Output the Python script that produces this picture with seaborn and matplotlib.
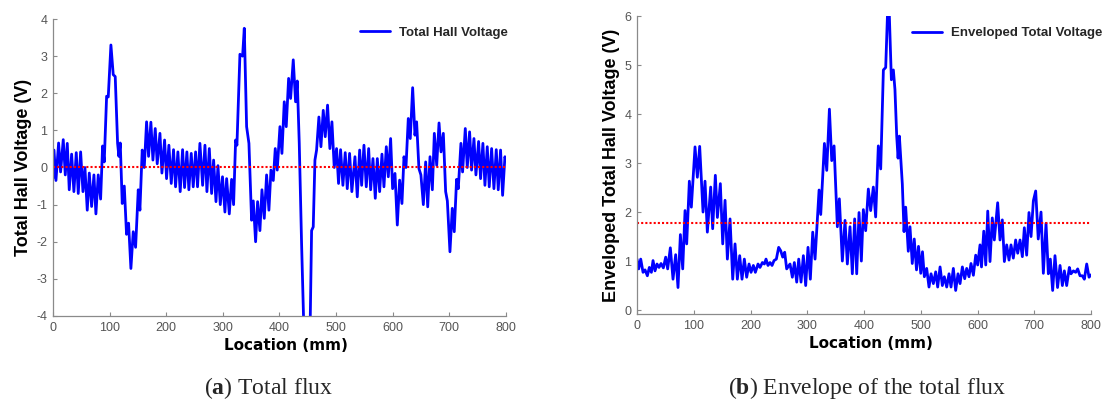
import matplotlib
matplotlib.use("Agg")
import matplotlib.pyplot as plt
import seaborn as sns

# (a) total Hall voltage along the scan line
loc_a = [0, 1.8, 5.3, 10, 13.5, 18.2, 21.8, 25.3, 28.8, 33,
         37, 41.2, 44.7, 48.9, 53, 56.5, 60.6, 64.2, 68.3, 72.4,
         75.9, 80, 84.2, 87.7, 90.6, 94.8, 97.7, 102.4, 106.5, 110,
         114.2, 116.5, 118.9, 122.4, 126, 130, 133.6, 137.7, 141.8, 146,
         150.7, 153.6, 157.7, 161.3, 165.4, 168.9, 173, 176.6, 180.7, 184.2,
         189, 192.5, 197.2, 200.7, 204.8, 209, 213, 216.6, 220.7, 224.8,
         229, 232.5, 236.6, 240.1, 244.3, 247.8, 252, 255.4, 259.6, 264.4,
         268.5, 272, 276.2, 280.3, 283.8, 288, 291.5, 295.6, 299.5, 303.8,
         306.8, 311.5, 315.6, 319.1, 322.7, 325, 330.3, 335, 338, 342.1,
         346.2, 350.9, 353.9, 358, 361.5, 365.6, 369.2, 373.3, 377.4, 381.5,
         385.1, 389.2, 392.7, 396.2, 401, 404.5, 408.6, 412.1, 416.3, 419.8,
         424.5, 428.6, 431.6, 435.1, 439.2, 444, 450, 454, 456.9, 459.8,
         462.8, 465.7, 469.8, 473.4, 477.5, 481, 485.1, 489.2, 492.8, 496.9,
         501, 504.5, 508.1, 512.2, 516.3, 519.9, 524, 528, 533.5, 537.6,
         541.8, 545.3, 549.4, 553.5, 557.7, 561.2, 565.3, 569.4, 573, 577.1,
         581.2, 584.7, 588.9, 592.4, 596.5, 600, 604.2, 608.3, 612.4, 616.5,
         620.1, 623.6, 627.7, 631.2, 635.4, 639.5, 642.4, 646.5, 650, 654.3,
         658.4, 662, 666.1, 670.2, 673.7, 677.9, 682, 685.5, 689.6, 693.7,
         696.7, 701.3, 705.4, 708.9, 713, 716, 720.7, 723.6, 728.4, 731.9,
         736, 739.5, 743.7, 747.2, 751.9, 755.4, 759.5, 763.1, 767.2, 770.7,
         774.9, 779, 783.1, 786.6, 790.7, 794.3, 798.4, 800]
volt_a = [-0.3, 0.47, -0.35, 0.66, -0.12, 0.75, -0.2, 0.65, -0.6, 0.36,
          -0.65, 0.4, -0.7, 0.42, -0.65, 0.0, -1.15, -0.15, -1.05, -0.2,
          -1.25, -0.2, -0.85, 0.58, 0.15, 1.92, 1.9, 3.3, 2.5, 2.45,
          0.65, 0.3, 0.66, -0.97, -0.5, -1.8, -1.5, -2.72, -1.73, -2.15,
          -0.6, -1.15, 0.47, 0.0, 1.23, 0.3, 1.22, 0.2, 1.05, 0.1,
          0.92, -0.15, 0.74, -0.3, 0.6, -0.43, 0.48, -0.52, 0.42, -0.65,
          0.48, -0.54, 0.42, -0.6, 0.38, -0.52, 0.42, -0.52, 0.65, -0.48,
          0.6, -0.65, 0.51, -0.7, 0.2, -0.92, 0.05, -1.0, -0.25, -1.2,
          -0.3, -1.25, -0.32, -1.0, 0.74, 0.6, 3.05, 3.0, 3.75, 1.1,
          0.65, -1.42, -0.9, -2.0, -0.92, -1.7, -0.6, -1.37, -0.2, -1.15,
          -0.07, -0.35, 0.51, -0.07, 1.1, 0.38, 1.77, 1.1, 2.4, 1.86,
          2.9, 1.77, 2.33, 0.65, -2.05, -4.8, -5.5, -4.6, -1.7, -1.6,
          0.2, 0.47, 1.36, 0.56, 1.54, 0.83, 1.68, 0.51, 1.23, 0.0,
          0.51, -0.43, 0.48, -0.48, 0.4, -0.57, 0.38, -0.65, 0.29, -0.79,
          0.47, -0.48, 0.6, -0.52, 0.51, -0.6, 0.24, -0.83, 0.24, -0.65,
          0.36, -0.52, 0.56, -0.25, 0.78, -0.57, -0.16, -1.55, -0.34, -0.97,
          0.29, 0.0, 1.32, 0.78, 2.15, 0.87, 1.23, -0.03, -0.2, -1.0,
          0.15, -1.06, 0.29, -0.6, 0.92, 0.06, 1.2, 0.42, 0.92, -0.65,
          -0.9, -2.27, -1.1, -1.73, -0.32, -0.57, 0.65, -0.12, 1.05, 0.0,
          0.96, -0.07, 0.78, -0.2, 0.7, -0.3, 0.65, -0.48, 0.56, -0.52,
          0.51, -0.57, 0.48, -0.6, 0.47, -0.75, 0.29, 0.2]

# (b) envelope of the total Hall voltage
loc_b = [0, 2.9, 6.5, 10.6, 14.1, 18.2, 21.7, 25.3, 28.2, 31.7,
         35.2, 38.8, 42.3, 46.4, 50.5, 54, 58.7, 63.4, 68.1, 72.2,
         76.4, 80.5, 84.6, 87.5, 92.2, 95.7, 102.2, 106.3, 110.4, 116.3,
         119.8, 123.9, 129.8, 133.3, 138, 141.6, 146.8, 151, 155.1, 159.2,
         163.9, 168.6, 172.7, 176.8, 180.9, 185, 189.1, 193.2, 197.4, 200.9,
         205, 208.5, 213.2, 216.7, 220.9, 224.4, 227.3, 230.8, 234.4, 237.9,
         241.4, 245.5, 249.6, 253.2, 256.7, 260.2, 263.7, 269.6, 273.7, 277.2,
         281.4, 284.9, 289, 293.1, 297.2, 301.3, 305.4, 309.6, 313.7, 320.8,
         323.7, 330.2, 334.3, 339, 343.1, 347.2, 353, 356.5, 361.8, 366.5,
         370.6, 375.3, 379.4, 383.5, 387.1, 391.2, 395.3, 398.8, 402.9, 407.6,
         411.7, 416.4, 420.5, 425.2, 429.4, 434.1, 438.2, 443, 448.2, 451.7,
         454.5, 457.6, 460, 462.3, 467.5, 470.5, 473.4, 478, 481, 485,
         488.5, 492.5, 496, 500, 503, 506.3, 510.4, 514.5, 518.1, 522.2,
         526.3, 529.8, 534, 538, 541.5, 545.7, 549.8, 553.3, 557.4, 561.5,
         565.6, 569.2, 573.3, 577.4, 580.9, 585, 588.5, 592.7, 596.8, 600.3,
         604.4, 607, 611, 614.5, 618, 622, 626, 629.6, 635.5, 639.6,
         643.7, 647.3, 651.4, 655.5, 659, 663.1, 667.2, 670.8, 674.9, 679,
         682.5, 686.6, 690.7, 694.3, 698.4, 702.5, 707, 711.9, 716, 720.7,
         724.8, 728.3, 732.4, 736.5, 741, 745.4, 749.5, 753, 757.1, 761.8,
         764.7, 768.9, 773, 776.5, 780.6, 784.7, 788.2, 792.4, 796.5, 800]
env_b = [1.04, 0.84, 1.04, 0.77, 0.82, 0.7, 0.87, 0.77, 1.01, 0.8,
         0.94, 0.87, 0.95, 0.86, 1.08, 0.84, 1.27, 0.63, 1.13, 0.46,
         1.54, 0.84, 2.03, 1.35, 2.63, 2.1, 3.33, 2.71, 3.34, 2.0,
         2.63, 1.59, 2.51, 1.66, 2.75, 1.89, 2.58, 1.35, 2.24, 1.04,
         1.86, 0.63, 1.35, 0.63, 1.11, 0.63, 1.04, 0.67, 0.94, 0.77,
         0.91, 0.77, 0.94, 0.87, 0.97, 0.94, 1.04, 0.91, 0.97, 0.91,
         1.01, 1.04, 1.28, 1.21, 1.08, 1.18, 0.84, 0.94, 0.67, 0.97,
         0.57, 1.04, 0.57, 1.11, 0.5, 1.28, 0.63, 1.59, 1.04, 2.45,
         1.95, 3.4, 2.85, 4.1, 3.05, 3.35, 1.7, 2.27, 1.0, 1.83,
         0.94, 1.7, 0.74, 1.86, 0.74, 1.99, 1.0, 2.05, 1.62, 2.47,
         2.03, 2.51, 1.9, 3.35, 2.88, 4.9, 4.95, 6.6, 4.7, 4.9,
         4.5, 3.55, 3.1, 3.55, 2.57, 1.6, 2.1, 1.2, 1.7, 0.95,
         1.45, 0.82, 1.3, 0.75, 1.19, 0.68, 0.85, 0.47, 0.74, 0.54,
         0.78, 0.47, 0.88, 0.5, 0.68, 0.47, 0.74, 0.47, 0.85, 0.4,
         0.74, 0.54, 0.88, 0.64, 0.85, 0.68, 0.95, 0.71, 1.12, 0.92,
         1.33, 0.88, 1.61, 0.92, 2.02, 0.99, 1.88, 1.43, 2.19, 1.43,
         1.84, 0.99, 1.33, 1.02, 1.33, 1.06, 1.43, 1.16, 1.43, 1.09,
         1.68, 1.12, 1.99, 1.5, 2.23, 2.43, 1.45, 2.0, 0.75, 1.77,
         0.74, 1.04, 0.4, 1.11, 0.46, 0.91, 0.5, 0.8, 0.5, 0.87,
         0.74, 0.8, 0.77, 0.84, 0.7, 0.7, 0.63, 0.94, 0.67, 0.72]

# reference levels (red dotted lines)
zero_level = 0.0
env_threshold = 1.78

x_ticks = [0, 100, 200, 300, 400, 500, 600, 700, 800]
y_ticks_a = [-4, -3, -2, -1, 0, 1, 2, 3, 4]
y_ticks_b = [0, 1, 2, 3, 4, 5, 6]

sns.set_theme(style="white")
plt.rcParams["font.family"] = ["Liberation Sans", "DejaVu Sans"]
plt.rcParams["axes.unicode_minus"] = False
plt.rcParams["mathtext.fontset"] = "custom"
plt.rcParams["mathtext.rm"] = "Liberation Serif"
plt.rcParams["mathtext.bf"] = "Liberation Serif:bold"

fig = plt.figure(figsize=(11.1, 4.01), dpi=100)
ax_a = fig.add_axes([0.0477, 0.212, 0.408, 0.7406])
ax_b = fig.add_axes([0.5739, 0.217, 0.409, 0.743])

AX_GREY = "#8a8a8a"
LABEL_GREY = "#555555"


def style_axes(ax, yticks, ylim, ylabel, ylabel_x):
    ax.set_xlim(0, 800)
    ax.set_ylim(*ylim)
    ax.set_xticks(x_ticks)
    ax.set_yticks(yticks)
    for side in ("top", "right"):
        ax.spines[side].set_visible(False)
    for side in ("left", "bottom"):
        ax.spines[side].set_color(AX_GREY)
        ax.spines[side].set_linewidth(0.9)
    ax.tick_params(axis="both", direction="in", length=3, width=0.8,
                   color=AX_GREY, labelcolor=LABEL_GREY, labelsize=9, pad=4,
                   bottom=True, left=True)
    ax.set_xlabel("Location (mm)", fontsize=11, fontweight="bold",
                  family="DejaVu Sans", color="black")
    ax.xaxis.set_label_coords(0.515, -0.075)
    ax.set_ylabel(ylabel, fontsize=13, fontweight="bold", color="black")
    ax.yaxis.set_label_coords(ylabel_x, 0.5)


def add_legend(ax, anchor):
    handles, labels = ax.get_legend_handles_labels()
    ax.legend(handles[:1], labels[:1], loc="center left", bbox_to_anchor=anchor,
              frameon=False, borderpad=0, borderaxespad=0, handlelength=2.3,
              handletextpad=0.65, prop={"weight": "bold", "size": 9.5})


# panel (a)
sns.lineplot(x=loc_a, y=volt_a, ax=ax_a, color="#0000ff", linewidth=2.0,
             estimator=None, sort=False, label="Total Hall Voltage")
ax_a.axhline(zero_level, color="red", linestyle=(0, (1, 1)), linewidth=1.5)
style_axes(ax_a, y_ticks_a, (-4, 4), "Total Hall Voltage (V)", -0.046)
add_legend(ax_a, (0.678, 0.953))

# panel (b)
sns.lineplot(x=loc_b, y=env_b, ax=ax_b, color="#0000ff", linewidth=2.0,
             estimator=None, sort=False, label="Enveloped Total Voltage")
ax_b.axhline(env_threshold, color="red", linestyle=(0, (1, 1)), linewidth=1.5)
style_axes(ax_b, y_ticks_b, (-0.08, 6), "Enveloped Total Hall Voltage (V)", -0.037)
add_legend(ax_b, (0.606, 0.943))

# sub-figure captions
cap_kw = dict(fontsize=17, family="Liberation Serif", va="baseline", ha="center")
fig.text(0.2415, 0.018, r"($\mathbf{a}$) Total flux", **cap_kw)
fig.text(0.781, 0.018, r"($\mathbf{b}$) Envelope of the total flux", **cap_kw)

fig.savefig("out.png", dpi=100)
